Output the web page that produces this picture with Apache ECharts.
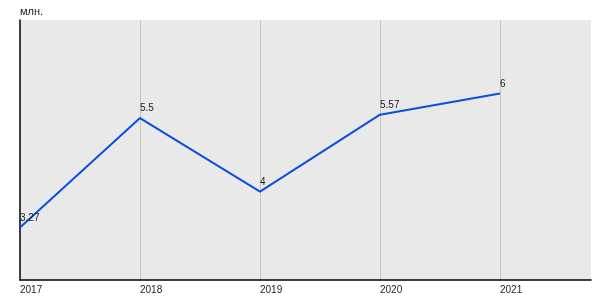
<!DOCTYPE html>
<html>
<head>
<meta charset="utf-8">
<script src="https://cdn.jsdelivr.net/npm/echarts@6/dist/echarts.min.js"></script>
<style>html,body{margin:0;padding:0;background:#fff}#c{width:600px;height:300px}</style>
</head>
<body>
<div id="c"></div>
<script>
const years = [2017, 2018, 2019, 2020, 2021];
const values = [3.27, 5.5, 4, 5.57, 6];
const valueLabels = ['3.27', '5.5', '4', '5.57', '6'];
const unitLabel = 'млн.';

const chart = echarts.init(document.getElementById('c'), null, {renderer: 'canvas'});
chart.setOption({
  animation: false,
  backgroundColor: '#ffffff',
  title: {
    text: unitLabel, left: 20, top: 6, padding: 0,
    textStyle: {fontFamily: 'Arial, Liberation Sans, sans-serif', fontSize: 11, fontWeight: 'normal', color: '#222'}
  },
  grid: {
    left: 20, top: 20, width: 571, height: 260,
    show: true, backgroundColor: '#e9e9e9', borderWidth: 0
  },
  xAxis: {
    type: 'value', min: 2017, max: 2017 + 571 / 120, interval: 1,
    axisLine: {show: true, onZero: false, lineStyle: {color: '#000', width: 1.5}},
    axisTick: {show: false},
    splitLine: {show: true, showMinLine: false, showMaxLine: false, lineStyle: {color: '#c4c4c4', width: 1}},
    axisLabel: {
      showMaxLabel: false,
      formatter: v => (Number.isInteger(v) ? String(v) : ''),
      align: 'left', margin: 5,
      fontFamily: 'Arial, Liberation Sans, sans-serif', fontSize: 10, color: '#222'
    }
  },
  yAxis: {
    type: 'value', min: 2.2, max: 7.5,
    axisLine: {show: true, lineStyle: {color: '#000', width: 1.5}},
    axisTick: {show: false},
    axisLabel: {show: false},
    splitLine: {show: false}
  },
  series: [{
    type: 'line',
    data: years.map((y, i) => [y, values[i]]),
    symbol: 'circle', symbolSize: 1, showSymbol: true,
    itemStyle: {color: 'rgba(0,0,0,0)'},
    lineStyle: {color: '#0a4fe0', width: 2},
    label: {
      show: true, position: 'top', align: 'left', distance: 4,
      formatter: p => valueLabels[p.dataIndex],
      fontFamily: 'Arial, Liberation Sans, sans-serif', fontSize: 10, color: '#222'
    }
  }]
});
</script>
</body>
</html>
